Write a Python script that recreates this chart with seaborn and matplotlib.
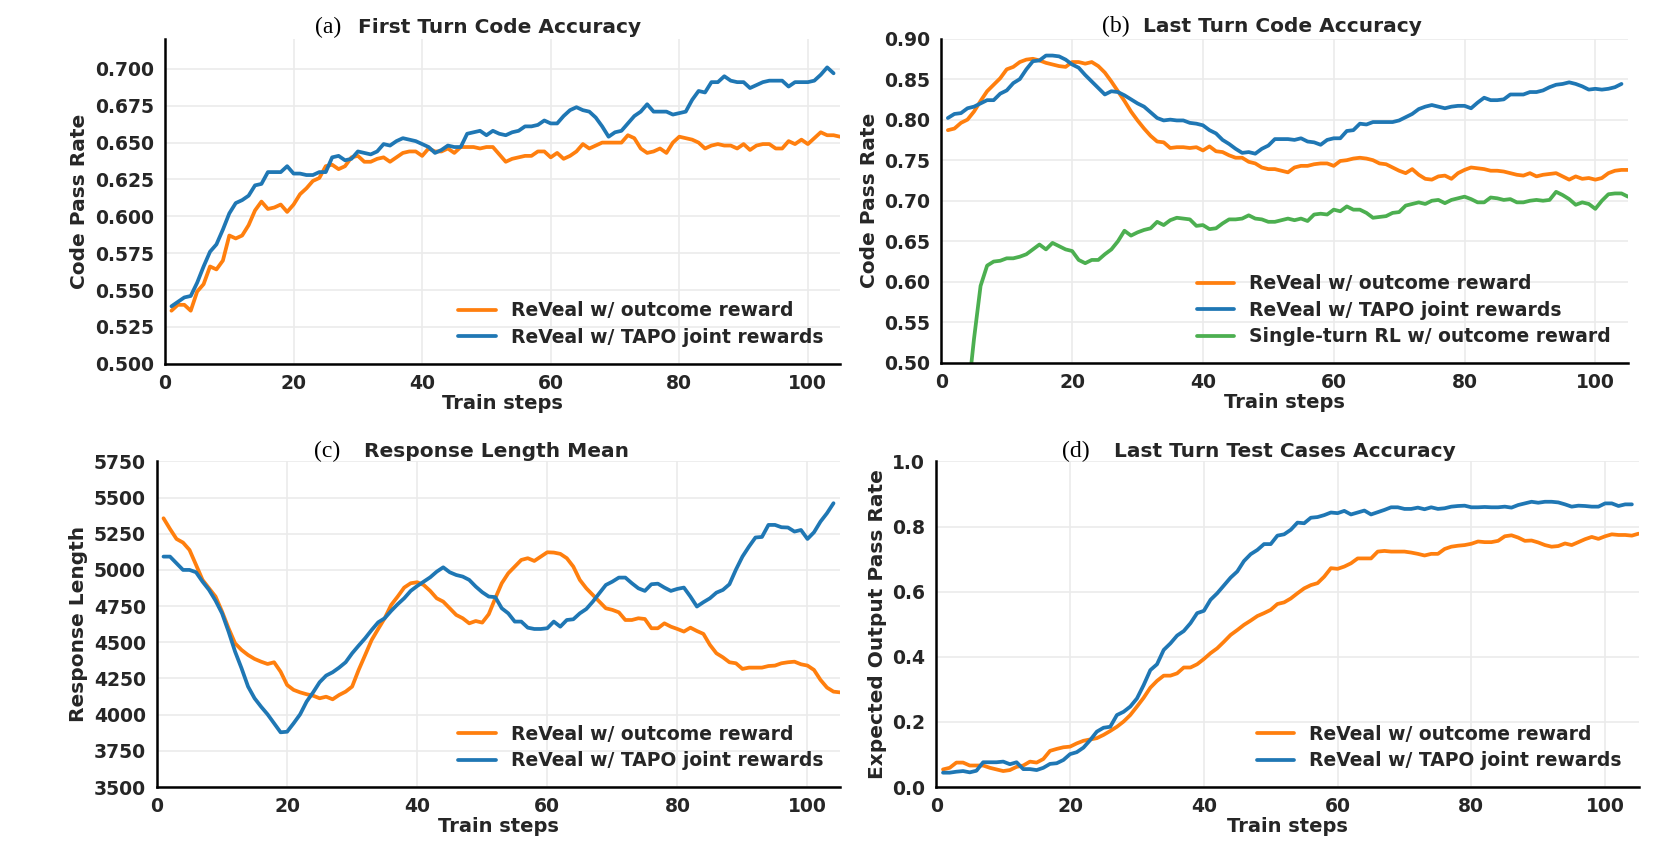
import matplotlib
matplotlib.use("Agg")
import matplotlib.pyplot as plt
import seaborn as sns

# (a) First Turn Code Accuracy
a_outcome = [0.536, 0.540, 0.540, 0.536, 0.549, 0.554, 0.566, 0.564, 0.570, 0.587,
             0.585, 0.587, 0.594, 0.604, 0.610, 0.605, 0.606, 0.608, 0.603, 0.608,
             0.615, 0.619, 0.624, 0.626, 0.634, 0.635, 0.632, 0.634, 0.640, 0.641,
             0.637, 0.637, 0.639, 0.640, 0.637, 0.640, 0.643, 0.644, 0.644, 0.641,
             0.646, 0.644, 0.644, 0.646, 0.643, 0.647, 0.647, 0.647, 0.646, 0.647,
             0.647, 0.642, 0.637, 0.639, 0.640, 0.641, 0.641, 0.644, 0.644, 0.640,
             0.643, 0.639, 0.641, 0.644, 0.649, 0.646, 0.648, 0.650, 0.650, 0.650,
             0.650, 0.655, 0.653, 0.646, 0.643, 0.644, 0.646, 0.643, 0.650, 0.654,
             0.653, 0.652, 0.650, 0.646, 0.648, 0.649, 0.648, 0.648, 0.646, 0.649,
             0.645, 0.648, 0.649, 0.649, 0.646, 0.646, 0.651, 0.649, 0.652, 0.649,
             0.653, 0.657, 0.655, 0.655, 0.654]
a_tapo = [0.539, 0.542, 0.545, 0.546, 0.555, 0.566, 0.576, 0.581, 0.591, 0.602,
          0.609, 0.611, 0.614, 0.621, 0.622, 0.630, 0.630, 0.630, 0.634, 0.629,
          0.629, 0.628, 0.628, 0.630, 0.630, 0.640, 0.641, 0.638, 0.639, 0.644,
          0.643, 0.642, 0.644, 0.649, 0.648, 0.651, 0.653, 0.652, 0.651, 0.649,
          0.647, 0.643, 0.645, 0.648, 0.647, 0.647, 0.656, 0.657, 0.658, 0.655,
          0.658, 0.656, 0.655, 0.657, 0.658, 0.661, 0.661, 0.662, 0.665, 0.663,
          0.663, 0.668, 0.672, 0.674, 0.672, 0.671, 0.667, 0.661, 0.654, 0.657,
          0.658, 0.663, 0.668, 0.671, 0.676, 0.671, 0.671, 0.671, 0.669, 0.670,
          0.671, 0.679, 0.685, 0.684, 0.691, 0.691, 0.695, 0.692, 0.691, 0.691,
          0.687, 0.689, 0.691, 0.692, 0.692, 0.692, 0.688, 0.691, 0.691, 0.691,
          0.692, 0.696, 0.701, 0.697]

# (b) Last Turn Code Accuracy
b_outcome = [0.787, 0.789, 0.796, 0.800, 0.810, 0.823, 0.835, 0.843, 0.851, 0.862,
             0.865, 0.871, 0.874, 0.875, 0.873, 0.870, 0.868, 0.866, 0.865, 0.871,
             0.871, 0.869, 0.871, 0.866, 0.858, 0.847, 0.835, 0.823, 0.810, 0.799,
             0.789, 0.780, 0.773, 0.772, 0.765, 0.766, 0.766, 0.765, 0.766, 0.762,
             0.767, 0.761, 0.760, 0.756, 0.753, 0.753, 0.748, 0.746, 0.741, 0.739,
             0.739, 0.737, 0.735, 0.741, 0.743, 0.743, 0.745, 0.746, 0.746, 0.743,
             0.749, 0.750, 0.752, 0.753, 0.752, 0.750, 0.746, 0.745, 0.741, 0.737,
             0.734, 0.739, 0.732, 0.727, 0.726, 0.730, 0.731, 0.727, 0.734, 0.738,
             0.741, 0.740, 0.739, 0.737, 0.737, 0.736, 0.734, 0.732, 0.731, 0.734,
             0.730, 0.732, 0.733, 0.734, 0.730, 0.726, 0.730, 0.727, 0.728, 0.726,
             0.728, 0.734, 0.737, 0.738, 0.738]
b_tapo = [0.802, 0.807, 0.808, 0.814, 0.816, 0.820, 0.824, 0.824, 0.832, 0.836,
          0.845, 0.850, 0.862, 0.872, 0.873, 0.879, 0.879, 0.878, 0.874, 0.868,
          0.864, 0.855, 0.847, 0.839, 0.831, 0.835, 0.834, 0.830, 0.825, 0.820,
          0.816, 0.809, 0.802, 0.799, 0.800, 0.799, 0.799, 0.796, 0.795, 0.793,
          0.787, 0.783, 0.775, 0.770, 0.764, 0.759, 0.760, 0.758, 0.764, 0.768,
          0.776, 0.776, 0.776, 0.775, 0.777, 0.773, 0.772, 0.769, 0.775, 0.777,
          0.777, 0.786, 0.787, 0.795, 0.794, 0.797, 0.797, 0.797, 0.797, 0.799,
          0.803, 0.807, 0.813, 0.816, 0.818, 0.816, 0.814, 0.816, 0.817, 0.817,
          0.814, 0.821, 0.827, 0.824, 0.824, 0.825, 0.831, 0.831, 0.831, 0.834,
          0.834, 0.836, 0.840, 0.843, 0.844, 0.846, 0.844, 0.841, 0.837, 0.838,
          0.837, 0.838, 0.840, 0.844]
b_single = [0.380, 0.410, 0.430, 0.455, 0.530, 0.595, 0.620, 0.625, 0.626, 0.629,
            0.629, 0.631, 0.634, 0.640, 0.646, 0.640, 0.648, 0.644, 0.640, 0.638,
            0.627, 0.623, 0.627, 0.627, 0.634, 0.640, 0.650, 0.663, 0.657, 0.661,
            0.664, 0.666, 0.674, 0.670, 0.676, 0.679, 0.678, 0.677, 0.669, 0.670,
            0.665, 0.666, 0.672, 0.677, 0.677, 0.678, 0.682, 0.678, 0.677, 0.674,
            0.674, 0.676, 0.678, 0.676, 0.678, 0.675, 0.683, 0.684, 0.683, 0.689,
            0.687, 0.693, 0.689, 0.689, 0.685, 0.679, 0.680, 0.681, 0.685, 0.686,
            0.694, 0.696, 0.698, 0.696, 0.700, 0.701, 0.697, 0.701, 0.703, 0.705,
            0.702, 0.698, 0.698, 0.704, 0.703, 0.701, 0.702, 0.698, 0.698, 0.700,
            0.701, 0.700, 0.701, 0.711, 0.707, 0.702, 0.695, 0.698, 0.696, 0.690,
            0.700, 0.708, 0.709, 0.709, 0.705]

# (c) Response Length Mean
c_outcome = [5357, 5283, 5214, 5189, 5138, 5035, 4931, 4873, 4816, 4712,
             4597, 4493, 4447, 4412, 4385, 4366, 4350, 4362, 4297, 4205,
             4171, 4154, 4141, 4131, 4113, 4124, 4106, 4136, 4159, 4194,
             4309, 4412, 4516, 4592, 4666, 4758, 4816, 4878, 4908, 4915,
             4896, 4855, 4804, 4781, 4735, 4689, 4666, 4631, 4647, 4636,
             4694, 4804, 4908, 4977, 5023, 5069, 5081, 5062, 5092, 5122,
             5120, 5111, 5081, 5023, 4931, 4873, 4827, 4781, 4735, 4724,
             4707, 4654, 4654, 4666, 4661, 4597, 4597, 4631, 4608, 4592,
             4574, 4601, 4578, 4558, 4482, 4424, 4396, 4362, 4355, 4316,
             4325, 4325, 4325, 4336, 4339, 4355, 4362, 4366, 4348, 4339,
             4309, 4240, 4187, 4159, 4154]
c_tapo = [5092, 5092, 5046, 5000, 5000, 4984, 4919, 4862, 4788, 4700,
          4574, 4436, 4320, 4194, 4113, 4055, 4002, 3940, 3878, 3882,
          3940, 4002, 4090, 4154, 4224, 4270, 4293, 4325, 4362, 4424,
          4477, 4528, 4585, 4638, 4666, 4717, 4763, 4804, 4855, 4889,
          4919, 4949, 4988, 5018, 4984, 4965, 4954, 4931, 4885, 4846,
          4816, 4812, 4735, 4700, 4643, 4643, 4601, 4592, 4592, 4597,
          4643, 4608, 4654, 4659, 4700, 4730, 4781, 4839, 4896, 4919,
          4947, 4947, 4908, 4873, 4855, 4901, 4905, 4878, 4855, 4869,
          4878, 4816, 4747, 4777, 4804, 4843, 4862, 4901, 5002, 5092,
          5161, 5224, 5228, 5311, 5311, 5295, 5293, 5265, 5276, 5214,
          5260, 5334, 5392, 5461]

# (d) Last Turn Test Cases Accuracy
d_outcome = [0.054, 0.059, 0.075, 0.075, 0.066, 0.066, 0.066, 0.059, 0.054, 0.049,
             0.052, 0.062, 0.066, 0.078, 0.075, 0.086, 0.111, 0.117, 0.122, 0.124,
             0.134, 0.142, 0.146, 0.150, 0.160, 0.172, 0.185, 0.201, 0.221, 0.247,
             0.274, 0.305, 0.326, 0.342, 0.342, 0.349, 0.367, 0.367, 0.377, 0.393,
             0.411, 0.426, 0.446, 0.467, 0.482, 0.498, 0.511, 0.525, 0.534, 0.544,
             0.562, 0.567, 0.579, 0.595, 0.610, 0.620, 0.626, 0.646, 0.672, 0.670,
             0.677, 0.687, 0.702, 0.702, 0.702, 0.723, 0.725, 0.723, 0.723, 0.723,
             0.720, 0.716, 0.711, 0.716, 0.716, 0.731, 0.738, 0.741, 0.743, 0.747,
             0.754, 0.752, 0.752, 0.756, 0.770, 0.773, 0.766, 0.756, 0.757, 0.751,
             0.743, 0.738, 0.740, 0.748, 0.743, 0.752, 0.761, 0.768, 0.762, 0.770,
             0.776, 0.774, 0.774, 0.772, 0.778]
d_tapo = [0.044, 0.044, 0.047, 0.049, 0.045, 0.050, 0.076, 0.076, 0.076, 0.078,
          0.070, 0.076, 0.055, 0.055, 0.052, 0.059, 0.071, 0.073, 0.083, 0.101,
          0.107, 0.121, 0.144, 0.170, 0.182, 0.185, 0.221, 0.231, 0.247, 0.272,
          0.313, 0.359, 0.377, 0.421, 0.441, 0.465, 0.479, 0.503, 0.534, 0.541,
          0.575, 0.595, 0.619, 0.643, 0.662, 0.694, 0.715, 0.728, 0.746, 0.746,
          0.772, 0.776, 0.790, 0.812, 0.810, 0.827, 0.829, 0.835, 0.843, 0.841,
          0.848, 0.837, 0.843, 0.849, 0.837, 0.844, 0.851, 0.859, 0.859, 0.854,
          0.854, 0.858, 0.853, 0.859, 0.854, 0.856, 0.861, 0.863, 0.864, 0.859,
          0.859, 0.860, 0.859, 0.859, 0.861, 0.858, 0.866, 0.871, 0.876, 0.873,
          0.876, 0.876, 0.874, 0.868, 0.861, 0.864, 0.863, 0.861, 0.861, 0.871,
          0.871, 0.863, 0.868, 0.868]

lbl_outcome = "ReVeal w/ outcome reward"
lbl_tapo = "ReVeal w/ TAPO joint rewards"
lbl_single = "Single-turn RL w/ outcome reward"
ORANGE, BLUE, GREEN = "#ff7f0e", "#1f77b4", "#4caf50"

sns.set_style("whitegrid", {"grid.color": "#ebebeb"})
plt.rcParams["font.family"] = ["DejaVu Sans"]
plt.rcParams["font.weight"] = "bold"
plt.rcParams["axes.labelweight"] = "bold"
plt.rcParams["text.color"] = "#262626"

fig = plt.figure(figsize=(16.72, 8.56), dpi=100)


def steps(vals):
    return list(range(1, len(vals) + 1))


def panel(rect, series, ylim, yticks, ylabel, tag, title, tag_x, title_x, title_y):
    ax = fig.add_axes(rect)
    for vals, color, label in series:
        sns.lineplot(x=steps(vals), y=vals, color=color, lw=2.7, label=label, ax=ax)
    ax.set_xlim(0, 105)
    ax.set_ylim(*ylim)
    ax.set_xticks([0, 20, 40, 60, 80, 100])
    ax.set_yticks(yticks)
    ax.tick_params(axis="both", length=0, labelsize=13.5, colors="#262626")
    ax.tick_params(axis="y", pad=8)
    ax.tick_params(axis="x", pad=7)
    ax.set_xlabel("Train steps", fontsize=14, labelpad=1)
    ax.set_ylabel(ylabel, fontsize=14.5, labelpad=4)
    ax.grid(True, color="#ebebeb", lw=1.2)
    sns.despine(ax=ax)
    for s in ("left", "bottom"):
        ax.spines[s].set_color("black")
        ax.spines[s].set_linewidth(1.8)
    ax.legend(loc="lower right", frameon=False, fontsize=13.5, labelspacing=0.4,
              handlelength=2.0)
    ax.text(tag_x, title_y, tag, transform=ax.transAxes, ha="right", va="baseline",
            fontsize=17, fontweight="normal", family=["Liberation Serif", "DejaVu Serif"],
            color="black")
    ax.text(title_x, title_y, title, transform=ax.transAxes, ha="left", va="baseline",
            fontsize=14.5, fontweight="bold", color="#262626")
    return ax


ax_a = panel([0.0987, 0.575, 0.4037, 0.379],
             [(a_outcome, ORANGE, lbl_outcome), (a_tapo, BLUE, lbl_tapo)],
             (0.5, 0.72), [0.5 + 0.025 * i for i in range(9)], "Code Pass Rate",
             "(a)", "First Turn Code Accuracy", 0.261, 0.286, 1.02)
ax_a.yaxis.set_major_formatter(matplotlib.ticker.FormatStrFormatter("%.3f"))

ax_b = panel([0.563, 0.576, 0.4107, 0.379],
             [(b_outcome, ORANGE, lbl_outcome), (b_tapo, BLUE, lbl_tapo),
              (b_single, GREEN, lbl_single)],
             (0.5, 0.9), [0.5 + 0.05 * i for i in range(9)], "Code Pass Rate",
             "(b)", "Last Turn Code Accuracy", 0.274, 0.294, 1.02)
ax_b.yaxis.set_major_formatter(matplotlib.ticker.FormatStrFormatter("%.2f"))

ax_c = panel([0.0939, 0.0806, 0.4085, 0.3804],
             [(c_outcome, ORANGE, lbl_outcome), (c_tapo, BLUE, lbl_tapo)],
             (3500, 5750), list(range(3500, 5751, 250)), "Response Length",
             "(c)", "Response Length Mean", 0.269, 0.303, 1.014)

ax_d = panel([0.560, 0.0806, 0.420, 0.3804],
             [(d_outcome, ORANGE, lbl_outcome), (d_tapo, BLUE, lbl_tapo)],
             (0.0, 1.0), [0.0, 0.2, 0.4, 0.6, 0.8, 1.0], "Expected Output Pass Rate",
             "(d)", "Last Turn Test Cases Accuracy", 0.218, 0.253, 1.014)
ax_d.yaxis.set_major_formatter(matplotlib.ticker.FormatStrFormatter("%.1f"))

fig.savefig("out.png", dpi=100, facecolor="white")
